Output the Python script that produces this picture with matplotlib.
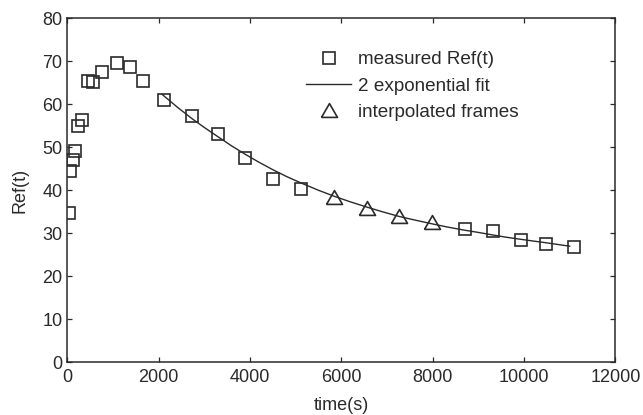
"""Reflectance over time: measured points, interpolated frames and 2-exponential fit."""

import matplotlib

matplotlib.use("Agg")
import matplotlib.pyplot as plt

# measured Ref(t)
MEAS_T = [37, 59, 118, 175, 241, 322, 453, 563, 766, 1088, 1375, 1658,
          2117, 2737, 3306, 3891, 4497, 5117,
          8708, 9321, 9928, 10482, 11089]
MEAS_REF = [34.6, 44.5, 47.1, 49.1, 54.9, 56.4, 65.4, 65.2, 67.6, 69.5, 68.6, 65.5,
            61.1, 57.2, 53.2, 47.6, 42.7, 40.4,
            30.9, 30.5, 28.4, 27.6, 26.8]

# interpolated frames
INTERP_T = [5846, 6556, 7270, 7986]
INTERP_REF = [38.4, 35.9, 34.1, 32.6]

# 2 exponential fit
FIT_T = [2075, 2400, 2737, 3000, 3306, 3600, 3891, 4200, 4497, 4800, 5117, 5500,
         5846, 6200, 6556, 6900, 7270, 7600, 7986, 8300, 8708, 9000, 9321, 9600,
         9928, 10200, 10482, 10800, 11000]
FIT_REF = [62.3, 59.4, 56.6, 54.6, 52.4, 50.3, 48.4, 46.5, 44.8, 43.2, 41.7, 40.0,
           38.6, 37.3, 36.1, 35.0, 33.9, 33.1, 32.2, 31.5, 30.7, 30.2, 29.6, 29.1,
           28.6, 28.2, 27.8, 27.3, 27.0]

INK = "#2a2a2a"
TRIANGLE = [(-1, -0.866), (1, -0.866), (0, 0.866), (-1, -0.866)]

plt.rcParams["font.family"] = ["Liberation Sans", "DejaVu Sans"]
plt.rcParams["font.size"] = 13
plt.rcParams["text.color"] = INK
plt.rcParams["axes.labelcolor"] = INK
plt.rcParams["xtick.color"] = INK
plt.rcParams["ytick.color"] = INK

fig = plt.figure(figsize=(6.43, 4.15), dpi=100)
ax = fig.add_axes([0.1047, 0.127, 0.957 - 0.1047, 0.956 - 0.127])

ax.plot(MEAS_T, MEAS_REF, linestyle="none", marker="s", markersize=8.6,
        markerfacecolor="none", markeredgecolor=INK, markeredgewidth=1.2,
        label="measured Ref(t)")
ax.plot(FIT_T, FIT_REF, color=INK, linewidth=1.0, label="2 exponential fit")
ax.plot(INTERP_T, INTERP_REF, linestyle="none", marker=TRIANGLE, markersize=11.5,
        markerfacecolor="none", markeredgecolor=INK, markeredgewidth=1.2,
        label="interpolated frames")

ax.set_xlim(0, 12000)
ax.set_ylim(0, 80)
ax.set_xticks(range(0, 12001, 2000))
ax.set_yticks(range(0, 81, 10))
ax.tick_params(direction="in", top=True, right=True, length=3.6, width=0.9,
               pad=3.5, labelsize=13)
ax.tick_params(axis="x", pad=5)
for spine in ax.spines.values():
    spine.set_linewidth(1.1)
    spine.set_color(INK)

ax.set_xlabel("time(s)", fontsize=13, labelpad=8)
ax.set_ylabel("Ref(t)", fontsize=13, labelpad=10)

ax.legend(loc="upper left", bbox_to_anchor=(306 / 643, 1 - 51 / 415),
          bbox_transform=fig.transFigure, frameon=False, borderpad=0,
          borderaxespad=0, handlelength=2.4, handletextpad=0.35,
          labelspacing=0.48, fontsize=13.6)

fig.savefig("out.png", dpi=100)
